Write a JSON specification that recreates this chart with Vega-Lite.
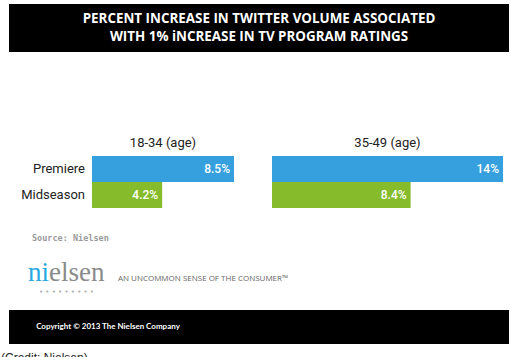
{
  "$schema": "https://vega.github.io/schema/vega-lite/v6.json",
  "padding": {"left": 1, "top": 4, "right": 5, "bottom": 5},
  "background": "white",
  "config": {"view": {"stroke": null}},
  "spacing": 85,
  "vconcat": [
    {
      "width": 500,
      "height": 48,
      "view": {"fill": "black", "stroke": null},
      "data": {"values": [{"t": "PERCENT INCREASE IN TWITTER VOLUME ASSOCIATED\nWITH 1% iNCREASE IN TV PROGRAM RATINGS"}]},
      "mark": {"type": "text", "color": "white", "font": "Open Sans", "fontWeight": "bold", "fontSize": 13.4, "lineBreak": "\n", "lineHeight": 18, "baseline": "middle", "dy": -9},
      "encoding": {"text": {"field": "t"}}
    },
    {
      "spacing": 15,
      "vconcat": [
        {
          "data": {"values": [
            {"age": "18-34 (age)", "season": "Premiere", "pct": 8.5, "label": "8.5%"},
            {"age": "18-34 (age)", "season": "Midseason", "pct": 4.2, "label": "4.2%"},
            {"age": "35-49 (age)", "season": "Premiere", "pct": 14, "label": "14%"},
            {"age": "35-49 (age)", "season": "Midseason", "pct": 8.4, "label": "8.4%"}
          ]},
          "spacing": 38,
          "title": {"text": "Source: Nielsen", "orient": "bottom", "anchor": "start", "offset": 26, "dx": 23, "font": "DejaVu Sans Mono", "fontSize": 8.5, "fontWeight": "bold", "color": "#9a9a9a"},
          "hconcat": [
            {
              "spacing": 0,
              "hconcat": [
                {
                  "width": 83,
                  "height": 52,
                  "transform": [{"filter": "datum.age === '18-34 (age)'"}],
                  "title": {"text": " ", "fontSize": 13, "offset": 6},
                  "mark": {"type": "text", "align": "right", "dx": -7, "font": "Roboto", "fontSize": 13, "color": "#222"},
                  "encoding": {
                    "y": {"field": "season", "type": "nominal", "sort": ["Premiere", "Midseason"], "scale": {"paddingInner": 0, "paddingOuter": 0}, "axis": null},
                    "x": {"datum": 1, "type": "quantitative", "scale": {"domain": [0, 1], "nice": false}, "axis": null},
                    "text": {"field": "season"}
                  }
                },
                {
                  "width": 142,
                  "height": 52,
                  "transform": [{"filter": "datum.age === '18-34 (age)'"}],
                  "title": {"text": "18-34 (age)", "frame": "group", "anchor": "middle", "font": "Roboto", "fontSize": 13, "fontWeight": "normal", "color": "#222", "offset": 6},
                  "encoding": {
                    "y": {"field": "season", "type": "nominal", "sort": ["Premiere", "Midseason"], "scale": {"paddingInner": 0, "paddingOuter": 0}, "axis": null},
                    "x": {"field": "pct", "type": "quantitative", "scale": {"domain": [0, 8.5], "nice": false}, "axis": null}
                  },
                  "layer": [
                    {"mark": {"type": "bar"}, "encoding": {"color": {"field": "season", "type": "nominal", "scale": {"domain": ["Premiere", "Midseason"], "range": ["#369fdd", "#86bc2b"]}, "legend": null}}},
                    {"mark": {"type": "text", "align": "right", "dx": -4, "color": "white", "font": "Roboto", "fontWeight": 500, "fontSize": 12}, "encoding": {"text": {"field": "label"}}}
                  ]
                }
              ]
            },
            {
              "width": 231,
              "height": 52,
              "transform": [{"filter": "datum.age === '35-49 (age)'"}],
              "title": {"text": "35-49 (age)", "frame": "group", "anchor": "middle", "font": "Roboto", "fontSize": 13, "fontWeight": "normal", "color": "#222", "offset": 6},
              "encoding": {
                "y": {"field": "season", "type": "nominal", "sort": ["Premiere", "Midseason"], "scale": {"paddingInner": 0, "paddingOuter": 0}, "axis": null},
                "x": {"field": "pct", "type": "quantitative", "scale": {"domain": [0, 14], "nice": false}, "axis": null}
              },
              "layer": [
                {"mark": {"type": "bar"}, "encoding": {"color": {"field": "season", "type": "nominal", "scale": {"domain": ["Premiere", "Midseason"], "range": ["#369fdd", "#86bc2b"]}, "legend": null}}},
                {"mark": {"type": "text", "align": "right", "dx": -4, "color": "white", "font": "Roboto", "fontWeight": 500, "fontSize": 12}, "encoding": {"text": {"field": "label"}}}
              ]
            }
          ]
        },
        {
          "spacing": 0,
          "hconcat": [
            {"width": 18, "height": 36, "data": {"values": [{}]}, "mark": {"type": "text", "text": ""}},
            {
              "spacing": 0,
              "vconcat": [
                {
                  "spacing": 0,
                  "hconcat": [
                    {"width": 19, "height": 30, "data": {"values": [{"t": "ni"}]}, "mark": {"type": "text", "align": "right", "font": "Liberation Serif", "fontSize": 27, "color": "#29a8e0", "baseline": "middle"}, "encoding": {"text": {"field": "t"}, "x": {"datum": 1, "type": "quantitative", "scale": {"domain": [0, 1], "nice": false}, "axis": null}}},
                    {"width": 54, "height": 30, "data": {"values": [{"t": "elsen"}]}, "mark": {"type": "text", "align": "left", "font": "Liberation Serif", "fontSize": 27, "color": "#8a8a8a", "baseline": "middle"}, "encoding": {"text": {"field": "t"}, "x": {"datum": 0, "type": "quantitative", "scale": {"domain": [0, 1], "nice": false}, "axis": null}}}
                  ]
                },
                {"width": 73, "height": 6, "data": {"values": [{"t": "•  •  •  •  •  •  •  •  •"}]}, "mark": {"type": "text", "font": "DejaVu Sans", "fontSize": 7, "color": "#aaaaaa", "baseline": "middle"}, "encoding": {"text": {"field": "t"}}}
              ]
            },
            {"width": 12, "height": 36, "data": {"values": [{}]}, "mark": {"type": "text", "text": ""}},
            {"width": 172, "height": 36, "data": {"values": [{"t": "AN UNCOMMON SENSE OF THE CONSUMER™"}]}, "mark": {"type": "text", "font": "Open Sans", "fontSize": 8, "color": "#666666", "baseline": "middle", "dy": 3}, "encoding": {"text": {"field": "t"}}}
          ]
        },
        {
          "spacing": 0,
          "title": {"text": "(Credit: Nielsen)", "orient": "bottom", "anchor": "start", "offset": 9, "dx": -8, "font": "Liberation Sans", "fontSize": 12, "fontWeight": "normal", "color": "#222"},
          "hconcat": [
            {"width": 27, "height": 34, "view": {"fill": "black", "stroke": null}, "data": {"values": [{}]}, "mark": {"type": "text", "text": ""}},
            {"width": 144, "height": 34, "view": {"fill": "black", "stroke": null}, "data": {"values": [{"t": "Copyright © 2013 The Nielsen Company"}]}, "mark": {"type": "text", "font": "Lato", "fontWeight": "bold", "fontSize": 8, "color": "white", "baseline": "middle"}, "encoding": {"text": {"field": "t"}}},
            {"width": 329, "height": 34, "view": {"fill": "black", "stroke": null}, "data": {"values": [{}]}, "mark": {"type": "text", "text": ""}}
          ]
        }
      ]
    }
  ]
}
